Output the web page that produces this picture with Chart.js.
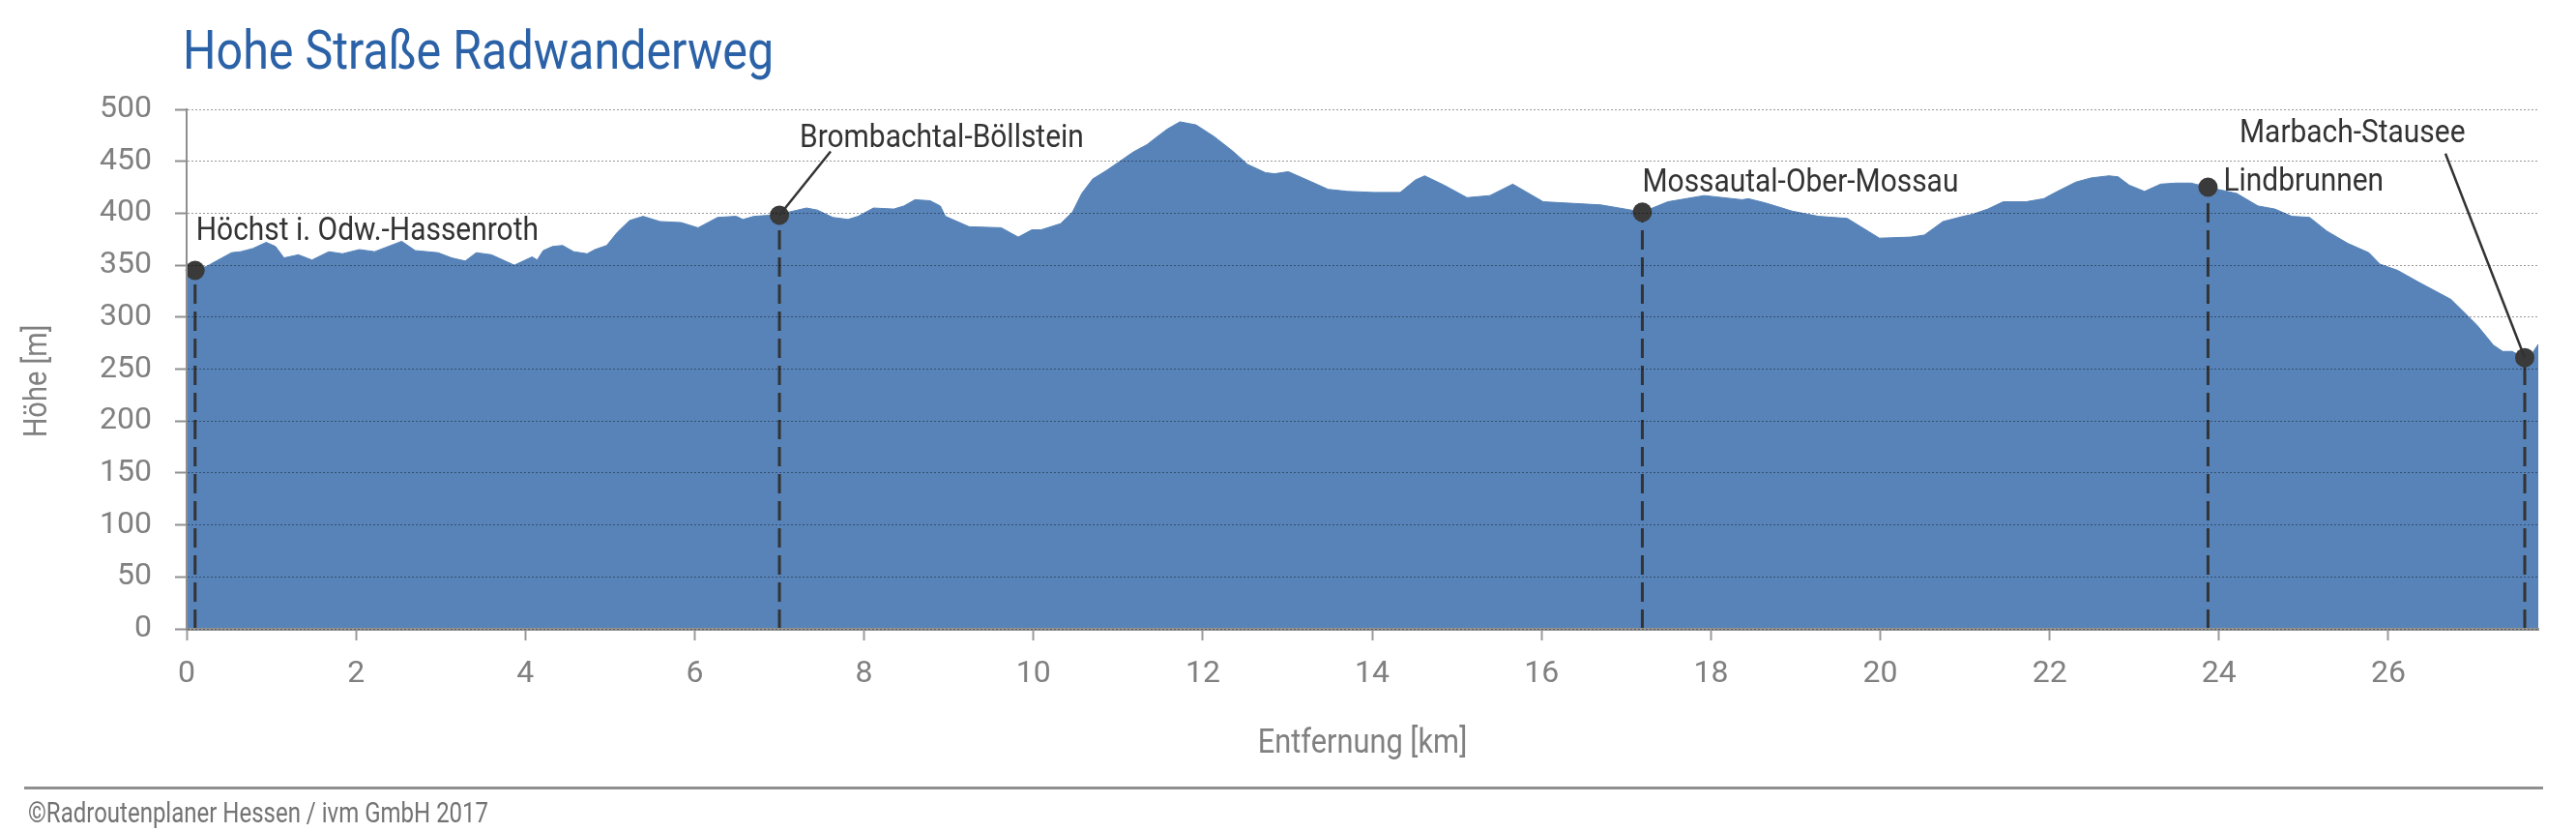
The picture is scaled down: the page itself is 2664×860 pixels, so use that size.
<!DOCTYPE html>
<html lang="de">
<head>
<meta charset="utf-8">
<title>Hohe Straße Radwanderweg</title>
<script src="https://cdn.jsdelivr.net/npm/chart.js@4.4.1/dist/chart.umd.min.js"></script>
<style>
    html, body { margin: 0; padding: 0; background: #ffffff; }
    #wrap { width: 2664px; height: 860px; }
</style>
</head>
<body>
<div id="wrap"><canvas id="profileChart" width="2664" height="860"></canvas></div>
<script>
// Hohe Straße Radwanderweg - Höhenprofil

/* ========================================
   Data
   ======================================== */

// Route profile: distance [km] and elevation [m]
const distanceKm = [
    0, 0.10, 0.24, 0.35, 0.53, 0.64, 0.78, 0.94, 1.05, 1.15,
    1.32, 1.48, 1.68, 1.84, 2.04, 2.22, 2.54, 2.70, 2.97, 3.13,
    3.29, 3.42, 3.60, 3.87, 4.08, 4.14, 4.21, 4.32, 4.44, 4.57,
    4.73, 4.82, 4.96, 5.09, 5.23, 5.39, 5.59, 5.84, 6.04, 6.27,
    6.49, 6.57, 6.70, 6.88,
    7.00, 7.11, 7.32, 7.45, 7.63, 7.81, 7.93, 8.11, 8.35, 8.47,
    8.60, 8.78, 8.90, 8.96, 9.24, 9.62, 9.82, 9.98, 10.09, 10.32,
    10.46, 10.57, 10.70, 10.86, 11.02, 11.18, 11.34, 11.45, 11.58, 11.73,
    11.92, 12.13, 12.35, 12.53, 12.74, 12.85, 13.01, 13.26, 13.48, 13.71,
    14.02,
    14.33, 14.51, 14.62, 14.85, 15.12, 15.39, 15.66, 16.02, 16.70, 17.06,
    17.19, 17.49, 17.92, 18.37, 18.44, 18.64, 18.96, 19.27, 19.61, 19.77,
    19.99, 20.36, 20.52, 20.74, 20.98,
    21.09, 21.27, 21.45, 21.72, 21.93, 22.09, 22.31, 22.49, 22.70, 22.81,
    22.94, 23.12, 23.31, 23.49, 23.67, 23.87, 24.21, 24.46, 24.66, 24.86,
    25.07, 25.27, 25.52, 25.77, 25.90, 26.11, 26.35, 26.58, 26.74, 26.94,
    27.05, 27.24, 27.35, 27.46, 27.61, 27.69, 27.77
];

const elevationM = [
    342, 345, 349, 354, 362, 363, 366, 372, 368, 357,
    360, 355, 363, 361, 365, 363, 373, 364, 362, 357,
    354, 362, 360, 350, 358, 355, 364, 368, 369, 363,
    361, 365, 369, 382, 393, 397, 392, 391, 386, 396,
    397, 394, 397, 398,
    398, 401, 405, 403, 396, 394, 397, 405, 404, 407,
    413, 412, 407, 397, 387, 386, 377, 384, 384, 390,
    401, 419, 433, 441, 450, 459, 466, 473, 481, 488,
    485, 474, 460, 447, 439, 438, 440, 431, 423, 421,
    420,
    420, 432, 436, 427, 415, 417, 428, 411, 408, 403,
    401, 411, 417, 413, 414, 410, 402, 397, 395, 387,
    376, 377, 379, 392, 397,
    399, 404, 411, 411, 414, 421, 430, 434, 436, 435,
    427, 421, 428, 429, 429, 425, 419, 407, 404, 397,
    396, 383, 371, 362, 351, 345, 334, 324, 317, 301,
    292, 273, 267, 267, 261, 264, 274
];

// Places along the route
const stopNames = [
    'Höchst i. Odw.-Hassenroth',
    'Brombachtal-Böllstein',
    'Mossautal-Ober-Mossau',
    'Lindbrunnen',
    'Marbach-Stausee'
];
const stopKm = [0.10, 7.00, 17.19, 23.87, 27.61];
const stopElev = [345, 398, 401, 425, 261];

// Axis ticks
const xTickValues = [0, 2, 4, 6, 8, 10, 12, 14, 16, 18, 20, 22, 24, 26];
const yTickValues = [0, 50, 100, 150, 200, 250, 300, 350, 400, 450, 500];
const xMaxKm = 27.77;

/* ========================================
   Layout / style
   ======================================== */

const FONT = 'Roboto';
const NARROW = 0.88;   // horizontal squeeze to imitate a condensed face

// label offsets from the marker, in pixels
const labelLayout = [
    { dx: 1,    dy: -31 },
    { dx: 21,   dy: -71,  lead: [53, -66] },
    { dx: 0,    dy: -21 },
    { dx: 16,   dy: 3 },
    { dx: -295, dy: -223, lead: [-82, -211] }
];

function drawText(ctx, text, x, y, size, color, align, angle, squeeze) {
    ctx.save();
    ctx.translate(x, y);
    if (angle) ctx.rotate(angle);
    ctx.scale(squeeze || NARROW, 1);
    ctx.font = size + 'px ' + FONT;
    ctx.fillStyle = color;
    ctx.textAlign = align || 'left';
    ctx.textBaseline = 'alphabetic';
    ctx.fillText(text, 0, 0);
    ctx.restore();
}

/* ========================================
   Decorations: title, labels, footer
   ======================================== */

const decorPlugin = {
    id: 'decor',
    afterDraw(chart) {
        const ctx = chart.ctx;
        const xs = chart.scales.x;
        const ys = chart.scales.y;
        const area = chart.chartArea;

        // Title
        drawText(ctx, 'Hohe Straße Radwanderweg', 189, 71, 55, '#2b62a7', 'left');

        // Axis titles
        drawText(ctx, 'Entfernung [km]', (area.left + area.right) / 2, 778, 35, '#808080', 'center');
        drawText(ctx, 'Höhe [m]', 48, 394, 33, '#808080', 'center', -Math.PI / 2);

        // Place labels with leader lines
        stopNames.forEach((name, i) => {
            const px = xs.getPixelForValue(stopKm[i]);
            const py = ys.getPixelForValue(stopElev[i]);
            const lay = labelLayout[i];
            if (lay.lead) {
                ctx.save();
                ctx.strokeStyle = '#333333';
                ctx.lineWidth = 2.5;
                ctx.beginPath();
                ctx.moveTo(px, py);
                ctx.lineTo(px + lay.lead[0], py + lay.lead[1]);
                ctx.stroke();
                ctx.restore();
            }
            drawText(ctx, name, px + lay.dx, py + lay.dy, 34, '#333333', 'left');
        });

        // Footer rule and copyright
        ctx.save();
        ctx.strokeStyle = '#8f8f8f';
        ctx.lineWidth = 3;
        ctx.beginPath();
        ctx.moveTo(25, 814.5);
        ctx.lineTo(2630, 814.5);
        ctx.stroke();
        ctx.restore();
        drawText(ctx, '©Radroutenplaner Hessen / ivm GmbH 2017', 29, 850, 30, '#737373', 'left', 0, 0.8);
    }
};

/* ========================================
   Chart
   ======================================== */

const profilePoints = distanceKm.map((d, i) => ({ x: d, y: elevationM[i] }));
const stopPoints = stopKm.map((d, i) => ({ x: d, y: stopElev[i] }));

const dropLines = stopKm.map((d, i) => ({
    type: 'line',
    label: stopNames[i],
    data: [{ x: d, y: 0 }, { x: d, y: stopElev[i] }],
    borderColor: '#333333',
    borderWidth: 3,
    borderDash: [20, 8],
    pointRadius: 0,
    fill: false,
    order: 1
}));

Chart.defaults.font.family = FONT;

new Chart(document.getElementById('profileChart'), {
    type: 'line',
    data: {
        datasets: [
            {
                type: 'scatter',
                label: 'Orte',
                data: stopPoints,
                pointRadius: 10,
                pointBackgroundColor: '#3a3a3a',
                pointBorderWidth: 0,
                clip: false,
                order: 0
            },
            ...dropLines,
            {
                type: 'line',
                label: 'Höhe',
                data: profilePoints,
                fill: 'origin',
                backgroundColor: '#5783b8',
                borderColor: '#5783b8',
                borderWidth: 1,
                pointRadius: 0,
                tension: 0,
                order: 2
            }
        ]
    },
    options: {
        responsive: false,
        devicePixelRatio: 1,
        animation: false,
        events: [],
        layout: {
            padding: { top: 113, right: 39, bottom: 0, left: 0 }
        },
        plugins: {
            legend: { display: false },
            tooltip: { enabled: false },
            title: { display: false }
        },
        scales: {
            x: {
                type: 'linear',
                min: 0,
                max: xMaxKm,
                afterBuildTicks: s => { s.ticks = xTickValues.map(v => ({ value: v })); },
                afterFit: s => { s.height = 210; },
                grid: {
                    display: true,
                    drawOnChartArea: false,
                    drawTicks: true,
                    tickLength: 12,
                    tickColor: '#9a9a9a',
                    tickWidth: 2
                },
                border: { display: true, color: '#949494', width: 3, z: 1 },
                ticks: {
                    color: '#808080',
                    font: { size: 32 },
                    padding: 16,
                    maxRotation: 0
                }
            },
            y: {
                type: 'linear',
                min: 0,
                max: 500,
                afterBuildTicks: s => { s.ticks = yTickValues.map(v => ({ value: v })); },
                afterFit: s => { s.width = 193; },
                grid: {
                    color: 'rgba(0, 0, 0, 0.4)',
                    lineWidth: 1,
                    drawTicks: true,
                    tickLength: 12,
                    tickColor: '#8f8f8f',
                    tickWidth: 2,
                    z: 1
                },
                border: { display: true, color: '#8f8f8f', width: 2, dash: [2, 2], z: 1 },
                ticks: {
                    color: '#808080',
                    font: { size: 32 },
                    padding: 24
                }
            }
        }
    },
    plugins: [decorPlugin]
});
</script>
</body>
</html>
